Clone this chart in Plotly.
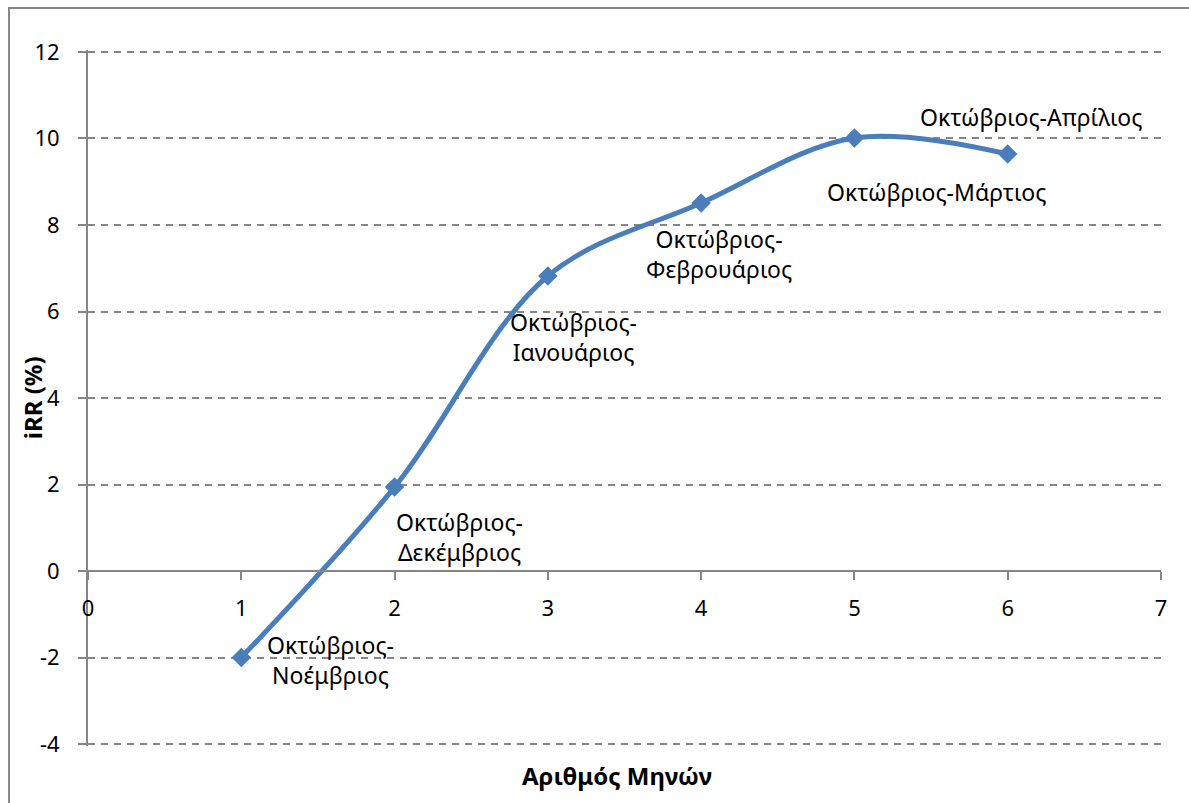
import plotly.graph_objects as go

# IRR by number of months in the holding period
months = [1, 2, 3, 4, 5, 6]
irr = [-2.0, 1.94, 6.82, 8.51, 10.01, 9.64]
period_labels = [
    "Οκτώβριος-<br>Νοέμβριος",
    "Οκτώβριος-<br>Δεκέμβριος",
    "Οκτώβριος-<br>Ιανουάριος",
    "Οκτώβριος-<br>Φεβρουάριος",
    "Οκτώβριος-Μάρτιος",
    "Οκτώβριος-Απρίλιος",
]
# pixel offsets of each data label from its point (right, up)
label_shift = [(89, -2), (65, -50), (26, -61), (18, -51), (82, -54), (23, 37)]

x_ticks = [0, 1, 2, 3, 4, 5, 6, 7]
y_ticks = [-4, -2, 0, 2, 4, 6, 8, 10, 12]
y_range = [-4.046, 12.046]   # small pad so the 12 and -4 gridlines are drawn

FONT = "Noto Sans"
GREY = "#868686"
BLUE = "#4A7EBB"

fig = go.Figure()
fig.add_trace(go.Scatter(
    x=months, y=irr, mode="lines+markers",
    line=dict(color=BLUE, width=5, shape="spline", smoothing=1.0),
    marker=dict(symbol="diamond", size=15, color=BLUE),
    hoverinfo="x+y", showlegend=False,
))

for xv, yv, txt, (dx, dy) in zip(months, irr, period_labels, label_shift):
    fig.add_annotation(
        x=xv, y=yv, text=txt, showarrow=False,
        xshift=dx, yshift=dy, xanchor="center", yanchor="middle",
        font=dict(family=FONT, size=23, color="#000000"), align="center",
    )

# axis titles
fig.add_annotation(
    x=0.493, y=-0.016, xref="paper", yref="paper", text="<b>Αριθμός Μηνών</b>",
    showarrow=False, xanchor="center", yanchor="top",
    font=dict(family=FONT, size=24, color="#000000"),
)
fig.add_annotation(
    x=-0.052, y=0.5, xref="paper", yref="paper", text="<b>iRR (%)</b>",
    showarrow=False, textangle=-90, xanchor="center", yanchor="middle",
    font=dict(family=FONT, size=24, color="#000000"),
)

# chart frame
fig.add_shape(
    type="rect", xref="paper", yref="paper",
    x0=-0.0736, x1=1.04, y0=-0.12, y1=1.0603,
    line=dict(color=GREY, width=2), fillcolor="rgba(0,0,0,0)", layer="below",
)

zero_pos = (0 - y_range[0]) / (y_range[1] - y_range[0])

fig.update_layout(
    width=1189, height=803,
    margin=dict(l=88, r=28, t=50, b=57),
    paper_bgcolor="white", plot_bgcolor="white",
    font=dict(family=FONT, size=22, color="#000000"),
    xaxis=dict(
        range=[0, 7], tickvals=x_ticks, ticktext=[str(v) for v in x_ticks],
        anchor="free", position=zero_pos,
        showline=True, linecolor=GREY, linewidth=2,
        ticks="outside", ticklen=8, tickcolor=GREY, tickwidth=2,
        showgrid=False, zeroline=False, ticklabelstandoff=10,
        tickfont=dict(family=FONT, size=22, color="#000000"),
    ),
    yaxis=dict(
        range=y_range, tickvals=y_ticks, ticktext=[str(v) for v in y_ticks],
        showline=True, linecolor=GREY, linewidth=2,
        ticks="outside", ticklen=8, tickcolor=GREY, tickwidth=2,
        showgrid=True, gridcolor=GREY, gridwidth=1.5, griddash="7px,6px",
        zeroline=False, ticklabelstandoff=14,
        tickfont=dict(family=FONT, size=22, color="#000000"),
    ),
)

fig.write_html("out.html")
